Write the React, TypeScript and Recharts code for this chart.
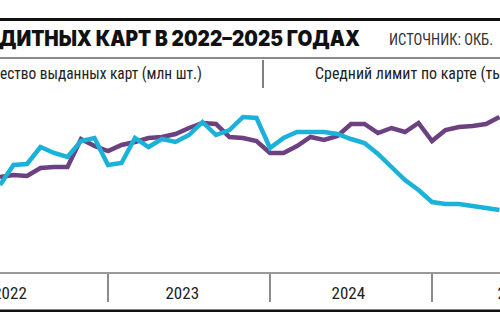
import React from 'react';
import { LineChart, Line, XAxis, YAxis } from 'recharts';

// months shown (May 2022 .. Jun 2025)
const months = [
  '2022-05','2022-06','2022-07','2022-08','2022-09','2022-10','2022-11','2022-12',
  '2023-01','2023-02','2023-03','2023-04','2023-05','2023-06','2023-07','2023-08','2023-09','2023-10','2023-11','2023-12',
  '2024-01','2024-02','2024-03','2024-04','2024-05','2024-06','2024-07','2024-08','2024-09','2024-10','2024-11','2024-12',
  '2025-01','2025-02','2025-03','2025-04','2025-05','2025-06',
];

// Количество выданных карт (relative units)
const issuedCards = [
  96, 98, 97, 105, 106, 106, 134, 127, 122, 128, 131, 135, 136, 139, 145, 150, 149, 136, 135, 132,
  120, 120, 127, 136, 133, 137, 149, 149, 140, 145, 141, 150, 132, 143, 146, 147, 149, 156,
];

// Средний лимит по карте (relative units)
const avgLimit = [
  88, 108, 109, 126, 120, 116, 132, 135, 108, 110, 135, 126, 134, 131, 138, 151, 138, 143, 156, 155,
  125, 135, 141, 141, 141, 139, 134, 130, 119, 106, 93, 83, 71, 69, 69, 67, 65, 63,
];

const yearLabels = ['2022', '2023', '2024', '2025'];
const yearLabelPos = [0.74, 13.5, 25.8, 38.1];
const yearBoundaries = [8, 20, 32];

const titleText = 'ДИТНЫХ КАРТ В 2022–2025 ГОДАХ';
const sourceText = 'ИСТОЧНИК: ОКБ.';
const legendLeft = 'ество выданных карт (млн шт.)';
const legendRight = 'Средний лимит по карте (ты';

const data = months.map((m, i) => ({ k: i, month: m, cards: issuedCards[i], limit: avgLimit[i] }));

const PURPLE = '#6b4181';
const CYAN = '#1bb2da';
const NARROW = "'Liberation Sans Narrow', 'Roboto Condensed', Roboto, sans-serif";

const YearTick = (props: any) => {
  const { x, y, payload } = props;
  const v = payload.value;
  if (yearBoundaries.includes(v)) {
    return <line x1={x} x2={x} y1={y - 7} y2={y + 21} stroke="#666" strokeWidth={1.5} />;
  }
  const idx = yearLabelPos.indexOf(v);
  return (
    <text x={x} y={y + 18} textAnchor="middle" fontFamily={NARROW} fontSize={17} fill="#222">
      {yearLabels[idx]}
    </text>
  );
};

const allTicks = [...yearLabelPos, ...yearBoundaries].sort((a, b) => a - b);

export default function App() {
  return (
    <div style={{ position: 'absolute', left: 0, top: 0, width: 500, height: 330, overflow: 'hidden', background: '#fff' }}>
      <LineChart width={540} height={330} data={data} margin={{ top: 90, right: 0, left: 0, bottom: 27 }}>
        <XAxis
          dataKey="k"
          type="number"
          domain={[0, 40]}
          ticks={allTicks}
          interval={0}
          height={30}
          axisLine={{ stroke: '#777', strokeWidth: 1.5 }}
          tickLine={false}
          tick={<YearTick />}
        />
        <YAxis hide domain={[0, 183]} />
        <Line dataKey="cards" stroke={PURPLE} strokeWidth={4.5} dot={false} isAnimationActive={false} />
        <Line dataKey="limit" stroke={CYAN} strokeWidth={4.5} dot={false} isAnimationActive={false} />
      </LineChart>
      <svg width={500} height={330} style={{ position: 'absolute', left: 0, top: 0, pointerEvents: 'none' }}>
        <rect x={0} y={18} width={500} height={3} fill="#111" />
        <text x={-1} y={46} fontFamily="Inter, 'DejaVu Sans', sans-serif" fontWeight={900} fontSize={21}
          fill="#111" textLength={361} lengthAdjust="spacingAndGlyphs">{titleText}</text>
        <text x={389} y={45} fontFamily={NARROW} fontSize={16} fill="#333"
          textLength={104} lengthAdjust="spacingAndGlyphs">{sourceText}</text>
        <rect x={0} y={57} width={500} height={2} fill="#8a8a8a" />
        <text x={0} y={79} fontFamily={NARROW} fontSize={17} fill="#222"
          textLength={202} lengthAdjust="spacingAndGlyphs">{legendLeft}</text>
        <line x1={263} x2={263} y1={60} y2={88} stroke="#555" strokeWidth={1.5} />
        <text x={315} y={79} fontFamily={NARROW} fontSize={17} fill="#222"
          textLength={188} lengthAdjust="spacingAndGlyphs">{legendRight}</text>
        <rect x={0} y={309.5} width={500} height={2.5} fill="#111" />
      </svg>
    </div>
  );
}
